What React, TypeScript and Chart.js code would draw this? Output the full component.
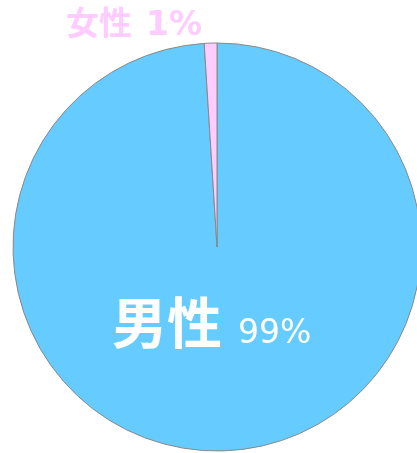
import React, { useEffect, useRef } from "react";
import { Chart, registerables } from "chart.js";

Chart.register(...registerables);

const categories = ["男性", "女性"];
const values = [99, 1];
const colors = ["#66CCFF", "#FFCCFF"];
const percentLabels = ["99%", "1%"];

const labelPlugin = {
  id: "pieLabels",
  afterDraw(chart: any) {
    const ctx = chart.ctx;
    const arc = chart.getDatasetMeta(0).data[0];
    if (!arc) return;
    const cx = arc.x;
    const cy = arc.y;
    ctx.save();
    ctx.textBaseline = "alphabetic";
    ctx.textAlign = "left";
    // male label inside
    ctx.fillStyle = "#FFFFFF";
    ctx.font = "bold 55px 'Noto Sans CJK JP'";
    const my = cy + 96;
    ctx.fillText(categories[0], cx - 105, my);
    ctx.font = "33px 'DejaVu Sans'";
    ctx.fillText(percentLabels[0], cx + 21, my);
    // female label above
    ctx.fillStyle = "#FFCCFF";
    ctx.font = "bold 33px 'Noto Sans CJK JP'";
    const fy = cy - 212;
    ctx.fillText(categories[1], cx - 151, fy);
    ctx.font = "bold 33px 'DejaVu Sans'";
    ctx.fillText(percentLabels[1], cx - 71, fy);
    ctx.restore();
  },
};

export default function App() {
  const ref = useRef<HTMLCanvasElement>(null);
  useEffect(() => {
    if (!ref.current) return;
    const chart = new Chart(ref.current, {
      type: "pie",
      data: {
        labels: categories,
        datasets: [
          {
            data: values,
            backgroundColor: colors,
            borderColor: "#888888",
            borderWidth: 1,
          },
        ],
      },
      options: {
        animation: false,
        responsive: false,
        radius: 204,
        layout: { padding: 0 },
        plugins: {
          legend: { display: false },
          tooltip: { enabled: false },
        },
      },
      plugins: [labelPlugin],
    });
    return () => chart.destroy();
  }, []);
  return (
    <div
      style={{
        position: "fixed",
        left: 0,
        top: 0,
        width: 417,
        height: 453,
        overflow: "hidden",
        background: "#FFFFFF",
      }}
    >
      <canvas ref={ref} width={434} height={494} style={{ width: 434, height: 494, display: "block" }} />
    </div>
  );
}
